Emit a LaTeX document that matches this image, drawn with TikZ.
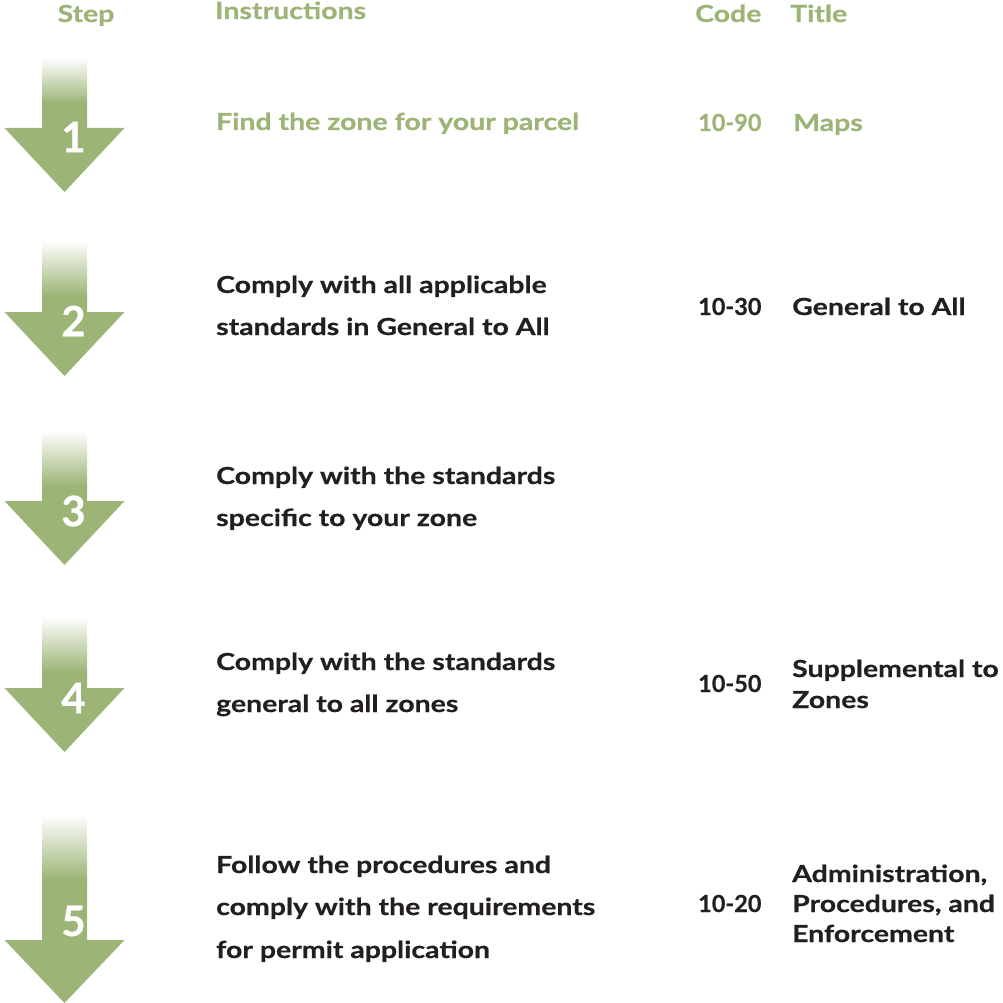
\documentclass[tikz,border=0pt]{standalone}
\usepackage{fontspec}
\setmainfont{Lato}
\newfontfamily\wide{Lato}[FakeStretch=1.21,BoldFeatures={FakeStretch=1.21,FakeBold=0.6}]
\newfontfamily\plain{Lato}[BoldFeatures={FakeBold=0.6}]
\definecolor{G}{RGB}{156,180,117}
\definecolor{K}{RGB}{35,31,32}
\begin{document}
\begin{tikzpicture}[x=1pt,y=-1pt,
  txt/.style={anchor=base west,inner sep=0pt,font=\wide\fontsize{23.5}{28}\selectfont\bfseries,text=K},
  code/.style={txt,font=\plain\fontsize{23.5}{28}\selectfont\bfseries},
  hdr/.style={txt,text=G},
  num/.style={inner sep=0pt,font=\plain\fontsize{42}{42}\selectfont\bfseries,text=white}]
\useasboundingbox (0,0) rectangle (1002,1003);
% arrow macro: top, headtop, tip, fade length, label, label y
\newcommand\stepArrow[6]{%
  \shade[top color=white,bottom color=G] (42,#1) rectangle (87,#1+#4);
  \fill[G] (42,#1+#4-0.5) -- (87,#1+#4-0.5) -- (87,#2) -- (124.5,#2) -- (64.5,#3) -- (4.5,#2) -- (42,#2) -- cycle;
  \node[num] (n#5) at (73.5,#6) {#5};
}
\stepArrow{58}{128}{192}{45}{1}{137}
\stepArrow{241}{312}{376}{55}{2}{321}
\stepArrow{431}{501}{565}{55}{3}{511}
\stepArrow{617}{688}{752}{55}{4}{698}
\stepArrow{815}{940}{1003}{65}{5}{921}
% headers
\node[hdr,anchor=base] (hstep) at (86,22) {Step};
\node[hdr] (hins) at (215,19) {Instructions};
\node[hdr] (hcode) at (695,22) {Code};
\node[hdr] (htitle) at (790,22) {Title};
% row 1
\node[hdr] (i1) at (216,130) {Find the zone for your parcel};
\node[code,text=G] (c1) at (698,131) {10-90};
\node[hdr] (t1) at (793,131) {Maps};
% row 2
\node[txt] (i2a) at (216,293) {Comply with all applicable};
\node[txt] (i2b) at (216,335) {standards in General to All};
\node[code] (c2) at (698,315) {10-30};
\node[txt] (t2) at (792,315) {General to All};
% row 3
\node[txt] (i3a) at (216,484) {Comply with the standards};
\node[txt] (i3b) at (216,526) {specific to your zone};
% row 4
\node[txt] (i4a) at (216,670) {Comply with the standards};
\node[txt] (i4b) at (216,712) {general to all zones};
\node[code] (c4) at (698,692) {10-50};
\node[txt] (t4a) at (792,677) {Supplemental to};
\node[txt] (t4b) at (792,708) {Zones};
% row 5
\node[txt] (i5a) at (216,873) {Follow the procedures and};
\node[txt] (i5b) at (216,915) {comply with the requirements};
\node[txt] (i5c) at (216,958) {for permit application};
\node[code] (c5) at (698,912) {10-20};
\node[txt] (t5a) at (792,882) {Administration,};
\node[txt] (t5b) at (792,912) {Procedures, and};
\node[txt] (t5c) at (792,942) {Enforcement};
\end{tikzpicture}
\end{document}
